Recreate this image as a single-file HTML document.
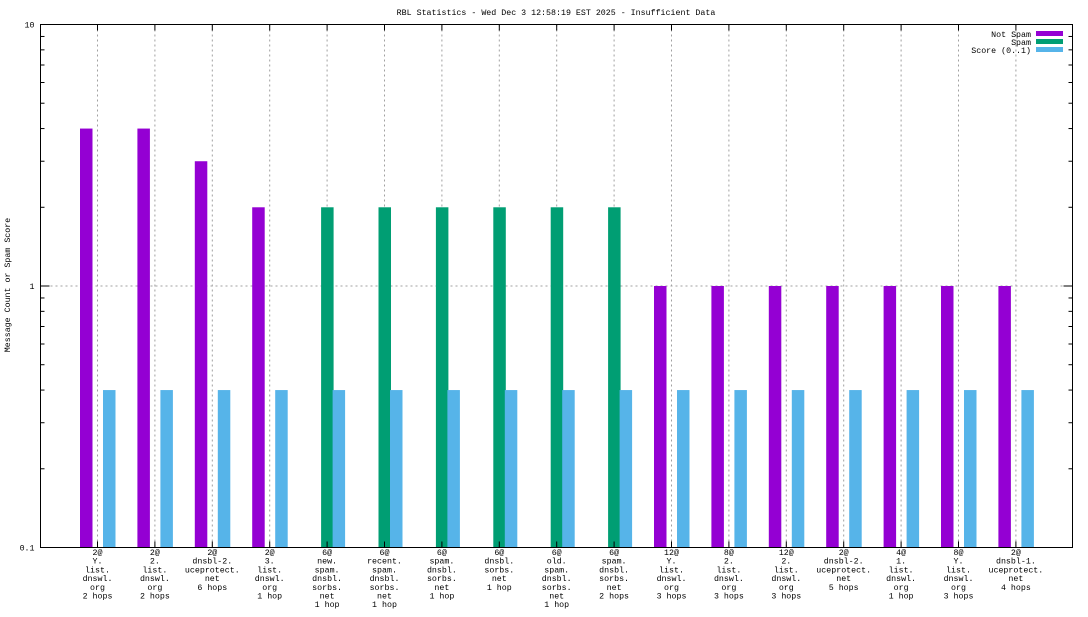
<!DOCTYPE html>
<html><head><meta charset="utf-8"><style>
body{margin:0;background:#fff}
svg text{font-family:"Liberation Mono",monospace;font-size:8.3px;fill:#000}
</style></head><body>
<svg id="c" width="1088" height="612" xmlns="http://www.w3.org/2000/svg">
<rect width="1088" height="612" fill="#fff"/>
<text x="556" y="15" text-anchor="middle">RBL Statistics - Wed Dec  3 12:58:19 EST 2025 - Insufficient Data</text>
<text transform="translate(10,285) rotate(-90)" text-anchor="middle">Message Count or Spam Score</text>
<g id="grid"></g><g id="bars"></g><g id="axes"></g><g id="xl"></g>
<g>
<text x="1031" y="37" text-anchor="end">Not Spam</text>
<rect x="1036" y="31" width="27" height="5" fill="#9400d3"/>
<text x="1031" y="45" text-anchor="end">Spam</text>
<rect x="1036" y="39" width="27" height="5" fill="#009e73"/>
<text x="1031" y="53" text-anchor="end">Score (0..1)</text>
<rect x="1036" y="47" width="27" height="5" fill="#56b4e9"/>
</g>
</svg>
<script>
const categories=[
["2@","Y.","list.","dnswl.","org","2 hops"],["2@","2.","list.","dnswl.","org","2 hops"],["2@","dnsbl-2.","uceprotect.","net","6 hops"],["2@","3.","list.","dnswl.","org","1 hop"],
["6@","new.","spam.","dnsbl.","sorbs.","net","1 hop"],["6@","recent.","spam.","dnsbl.","sorbs.","net","1 hop"],["6@","spam.","dnsbl.","sorbs.","net","1 hop"],["6@","dnsbl.","sorbs.","net","1 hop"],
["6@","old.","spam.","dnsbl.","sorbs.","net","1 hop"],["6@","spam.","dnsbl.","sorbs.","net","2 hops"],["12@","Y.","list.","dnswl.","org","3 hops"],["8@","2.","list.","dnswl.","org","3 hops"],
["12@","2.","list.","dnswl.","org","3 hops"],["2@","dnsbl-2.","uceprotect.","net","5 hops"],["4@","1.","list.","dnswl.","org","1 hop"],["8@","Y.","list.","dnswl.","org","3 hops"],["2@","dnsbl-1.","uceprotect.","net","4 hops"]];
const notSpam=[4,4,3,2,0,0,0,0,0,0,1,1,1,1,1,1,1];
const spam=[0,0,0,0,2,2,2,2,2,2,0,0,0,0,0,0,0];
const score=[0.4,0.4,0.4,0.4,0.4,0.4,0.4,0.4,0.4,0.4,0.4,0.4,0.4,0.4,0.4,0.4,0.4];
const yTicks=[10,1,0.1];
const yTickLabels=["10","1","0.1"];
const NS="http://www.w3.org/2000/svg";
const L=40.5,R=1072.5,T=24.5,B=547.5;
function y(v){return B-(Math.log10(v)+1)/2*(B-T);}
function x(i){return 97.5+i*57.4;}
function mk(t,a,p){const e=document.createElementNS(NS,t);for(const k in a)e.setAttribute(k,a[k]);document.getElementById(p).appendChild(e);return e;}
categories.forEach((c,i)=>{
 const g=mk('line',{x1:x(i),x2:x(i),y1:T,y2:B,stroke:'#a0a0a0','stroke-dasharray':'2,3'},'grid');
 
 
 const tk=mk('line',{x1:x(i),x2:x(i),y1:B,y2:B-6,stroke:'#000'},'axes');
 
 
 const tk2=mk('line',{x1:x(i),x2:x(i),y1:T,y2:T+6,stroke:'#000'},'axes');
 
 
 const t=mk('text',{'text-anchor':'middle'},'xl');
 
 
 c.forEach((s,j)=>{const ts=document.createElementNS(NS,'tspan');ts.setAttribute('x',x(i));ts.setAttribute('y',555+j*8.7);ts.textContent=s;t.appendChild(ts);});
 const series=[[notSpam[i],-17,'#9400d3','bar-not-spam'],[spam[i],-5.5,'#009e73','bar-spam'],[score[i],6,'#56b4e9','bar-score']];
 series.forEach(s=>{if(s[0]>0){const b=mk('rect',{x:x(i)+s[1]-0.5,y:y(s[0]),width:12.5,height:B-y(s[0]),fill:s[2]},'bars');
  
  }});
});
const gl=mk('line',{x1:L,x2:R,y1:y(1),y2:y(1),stroke:'#a0a0a0','stroke-dasharray':'2,3'},'grid');


yTicks.forEach((v,k)=>{const t=mk('text',{x:L-6,y:y(v)+3,'text-anchor':'end'},'axes');t.textContent=yTickLabels[k];
 
 });
for(let d=-1;d<1;d++)for(let m=1;m<=10;m++){const v=m*Math.pow(10,d);const len=(m==1||m==10)?9:4;
 const a=mk('line',{x1:L,x2:L+len,y1:y(v),y2:y(v),stroke:'#000'},'axes');
 
 
 const b=mk('line',{x1:R,x2:R-len,y1:y(v),y2:y(v),stroke:'#000'},'axes');
 
 }
const box=mk('rect',{x:L,y:T,width:R-L,height:B-T,fill:'none',stroke:'#000'},'axes');


</script>
</body></html>
